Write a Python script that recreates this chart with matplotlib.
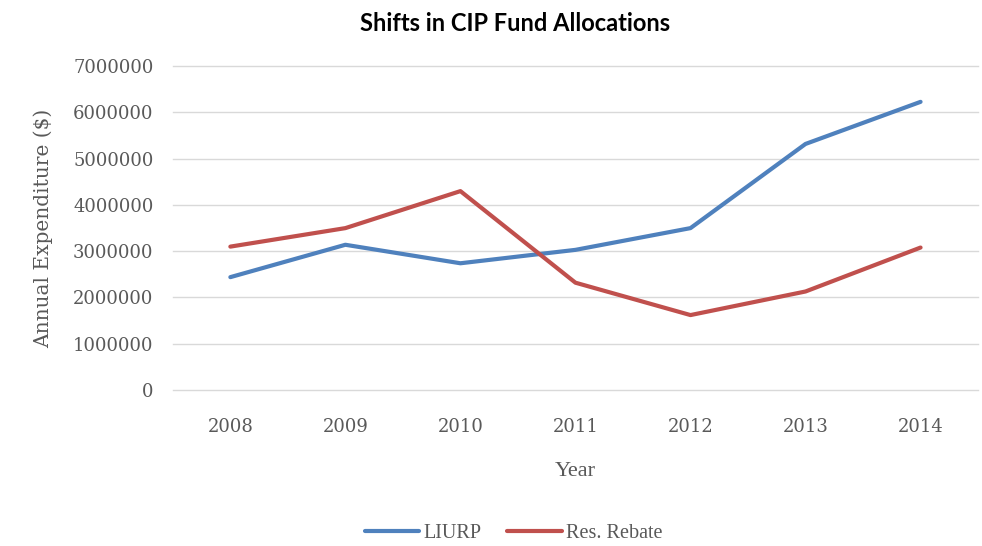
import matplotlib.pyplot as plt
import numpy as np

years = ['2008', '2009', '2010', '2011', '2012', '2013', '2014']
liurp = [2440000, 3140000, 2740000, 3030000, 3500000, 5320000, 6230000]
rebate = [3100000, 3500000, 4300000, 2320000, 1620000, 2130000, 3080000]

fig = plt.figure(figsize=(9.82, 5.46), dpi=100)
ax = fig.add_axes([0.176, 0.2857, 0.82, 0.593])

x = np.arange(len(years))
ax.plot(x, liurp, color='#4F81BD', linewidth=3, label='LIURP', solid_capstyle='round')
ax.plot(x, rebate, color='#C0504D', linewidth=3, label='Res. Rebate', solid_capstyle='round')

ax.set_xlim(-0.5, len(years) - 0.5)
ax.set_ylim(0, 7000000)
ax.set_yticks(np.arange(0, 7000001, 1000000))
ax.set_yticklabels([str(v) for v in range(0, 7000001, 1000000)])
ax.set_xticks(x)
ax.set_xticklabels(years)
ax.tick_params(length=0, labelsize=13, labelcolor='#595959')
ax.tick_params(axis='x', pad=20)
ax.tick_params(axis='y', pad=14)
for lab in ax.get_xticklabels() + ax.get_yticklabels():
    lab.set_family('DejaVu Serif')
ax.grid(True, axis='y', color='#d9d9d9', linewidth=1)
for gl in ax.get_ygridlines():
    gl.set_clip_on(False)
ax.set_axisbelow(True)
for s in ax.spines.values():
    s.set_visible(False)

ax.set_ylabel('Annual Expenditure ($)', family='DejaVu Serif', fontsize=14.5, color='#595959', labelpad=14)
ax.set_xlabel('Year', family='Liberation Serif', fontsize=16, color='#595959', labelpad=19)

fig.suptitle('Shifts in CIP Fund Allocations', x=0.524, y=0.978, fontsize=17,
             fontweight='bold', family=['Lato', 'DejaVu Sans'])

fig.legend(loc='lower center', bbox_to_anchor=(0.523, -0.028), ncol=2, frameon=False,
           prop={'family': 'Liberation Serif', 'size': 14.5}, handlelength=2.7,
           handletextpad=0.2, columnspacing=1.3, labelcolor='#595959')

fig.savefig('out.png', dpi=100)
